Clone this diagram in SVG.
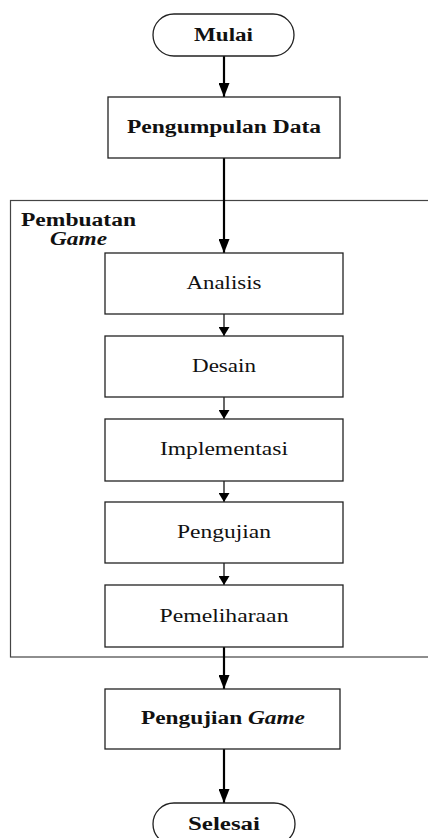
<svg xmlns="http://www.w3.org/2000/svg" width="428" height="838" viewBox="0 0 428 838">
<style>
.box{fill:#fff;stroke:#222;stroke-width:1.3}
.frame{fill:none;stroke:#444;stroke-width:1.2}
.t{font-family:"Liberation Serif","Times New Roman",serif;font-size:18px;fill:#111}
.b{font-weight:bold;font-size:18.5px}
.i{font-style:italic}
.big{stroke:#000;stroke-width:2.2;fill:none}
.sm{stroke:#000;stroke-width:1.2;fill:none}
</style>
<defs>
<marker id="ah" markerUnits="userSpaceOnUse" markerWidth="14" markerHeight="11" refX="14" refY="5.5" orient="auto"><path d="M0,0 L14,5.5 L0,11 z" fill="#000"/></marker>
<marker id="as" markerUnits="userSpaceOnUse" markerWidth="9" markerHeight="11" refX="9" refY="5.5" orient="auto"><path d="M0,0 L9,5.5 L0,11 z" fill="#000"/></marker>
</defs>
<rect fill="#fff" width="428" height="838"/>
<g id="frame">
<rect class="frame" x="10.5" y="200.5" width="430" height="456.5"/>
<text class="t b" x="21" y="226" textLength="115" lengthAdjust="spacingAndGlyphs">Pembuatan</text>
<text class="t b i" x="50" y="245" textLength="57" lengthAdjust="spacingAndGlyphs">Game</text>
</g>
<g id="connectors">
<line class="big" x1="224" y1="56" x2="224" y2="97" marker-end="url(#ah)"/>
<line class="big" x1="224" y1="158" x2="224" y2="253" marker-end="url(#ah)"/>
<line class="sm" x1="224" y1="314" x2="224" y2="336" marker-end="url(#as)"/>
<line class="sm" x1="224" y1="397" x2="224" y2="419" marker-end="url(#as)"/>
<line class="sm" x1="224" y1="481" x2="224" y2="502" marker-end="url(#as)"/>
<line class="sm" x1="224" y1="563" x2="224" y2="585" marker-end="url(#as)"/>
<line class="big" x1="224" y1="647" x2="224" y2="689" marker-end="url(#ah)"/>
<line class="big" x1="224" y1="749" x2="224" y2="803" marker-end="url(#ah)"/>
</g>
<g id="mulai">
<rect class="box" x="153" y="14" width="141" height="42" rx="21"/>
<text class="t b" x="223.5" y="41" text-anchor="middle" textLength="59" lengthAdjust="spacingAndGlyphs">Mulai</text>
</g>
<g id="pengumpulan">
<rect class="box" x="108" y="97" width="232" height="61"/>
<text class="t b" x="224" y="133" text-anchor="middle" textLength="194" lengthAdjust="spacingAndGlyphs">Pengumpulan Data</text>
</g>
<g id="analisis">
<rect class="box" x="105" y="253" width="238" height="61"/>
<text class="t" x="224" y="289" text-anchor="middle" textLength="75" lengthAdjust="spacingAndGlyphs">Analisis</text>
</g>
<g id="desain">
<rect class="box" x="105" y="336" width="238" height="61"/>
<text class="t" x="224" y="372" text-anchor="middle" textLength="64" lengthAdjust="spacingAndGlyphs">Desain</text>
</g>
<g id="implementasi">
<rect class="box" x="105" y="419" width="238" height="62"/>
<text class="t" x="224" y="455" text-anchor="middle" textLength="128" lengthAdjust="spacingAndGlyphs">Implementasi</text>
</g>
<g id="pengujian">
<rect class="box" x="105" y="502" width="238" height="61"/>
<text class="t" x="224" y="538" text-anchor="middle" textLength="94" lengthAdjust="spacingAndGlyphs">Pengujian</text>
</g>
<g id="pemeliharaan">
<rect class="box" x="105" y="585" width="238" height="62"/>
<text class="t" x="224" y="622" text-anchor="middle" textLength="129" lengthAdjust="spacingAndGlyphs">Pemeliharaan</text>
</g>
<g id="pengujian-game">
<rect class="box" x="105" y="689" width="235" height="60"/>
<text class="t b" x="141" y="724" textLength="164" lengthAdjust="spacingAndGlyphs">Pengujian <tspan class="i">Game</tspan></text>
</g>
<g id="selesai">
<rect class="box" x="153" y="803" width="142" height="42" rx="21"/>
<text class="t b" x="224" y="830" text-anchor="middle" textLength="72" lengthAdjust="spacingAndGlyphs">Selesai</text>
</g>
</svg>
